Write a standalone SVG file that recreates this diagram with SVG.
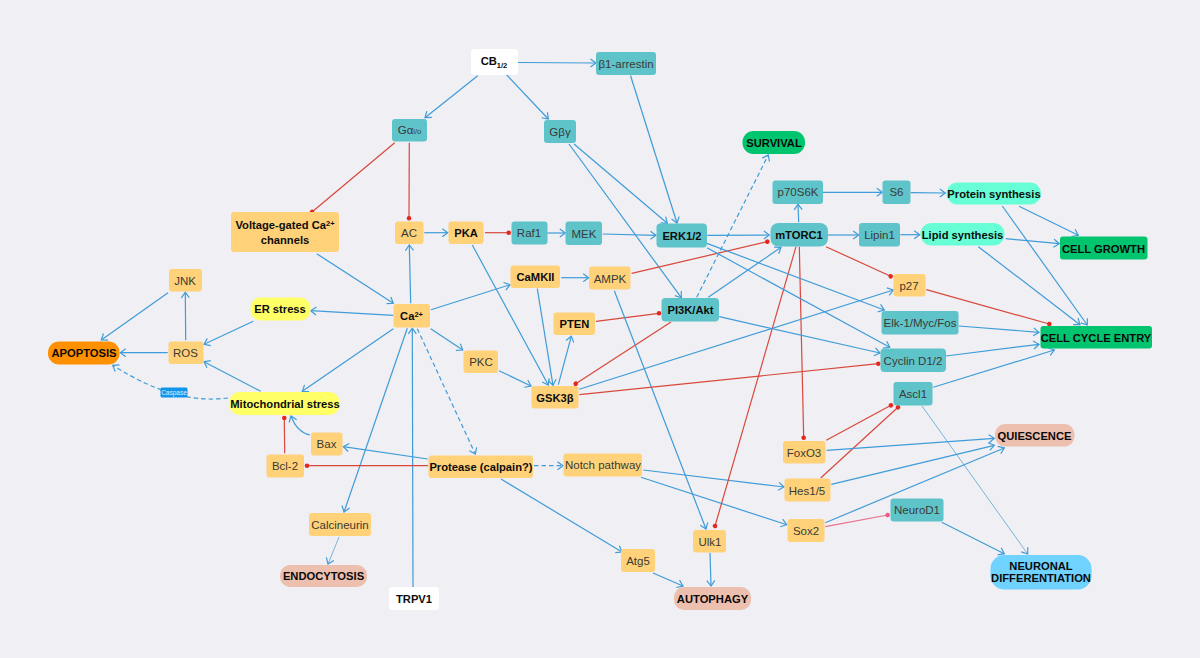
<svg xmlns="http://www.w3.org/2000/svg" width="1200" height="658" viewBox="0 0 1200 658">
<style>
text{font-family:"Liberation Sans",Arial,sans-serif;font-size:11.5px;fill:#3a3a34;text-anchor:middle;dominant-baseline:auto}
text.b{font-weight:bold;fill:#0c0c0c;font-size:11.2px}
text.c{font-weight:bold;fill:#0a0a0a;font-size:11.2px}
.o{fill:#ffd27a}.t{fill:#5fc4ca}.y{fill:#ffff66}.m{fill:#66ffd6}.g{fill:#00c46e}.a{fill:#ff9000}.s{fill:#ecbfae}.l{fill:#6fd2ff}.w{fill:#fff}
#edges path{fill:none;stroke:#3f9cd8;stroke-width:1.2;marker-end:url(#ar)}
#edges path.r{stroke:#d9483b;marker-end:url(#dot)}
#edges path.p{stroke:#e8728a;marker-end:url(#pdot)}
#edges path.d{stroke-dasharray:4.5 3}
#edges path.n{stroke-width:.8;stroke:#5aa6d0}
</style>
<defs>
<marker id="ar" markerUnits="userSpaceOnUse" markerWidth="12" markerHeight="12" refX="8" refY="5" orient="auto"><path d="M2.5 1 L8 5 L2.5 9" fill="none" stroke="#3f9cd8" stroke-width="1.2"/></marker>
<marker id="dot" markerUnits="userSpaceOnUse" markerWidth="8" markerHeight="8" refX="4" refY="4" orient="auto"><circle cx="4" cy="4" r="2.3" fill="#e5281e"/></marker>
<marker id="pdot" markerUnits="userSpaceOnUse" markerWidth="8" markerHeight="8" refX="4" refY="4" orient="auto"><circle cx="4" cy="4" r="2.3" fill="#ea5f80"/></marker>
</defs>
<rect width="1200" height="658" fill="#efeff4"/>
<g id="edges">
<path d="M518 62.5L596 63"/><path d="M630.5 75.5L677 223"/><path d="M477.7 75.7L425 117.7"/><path d="M506.7 75L548.3 119"/>
<path d="M574 144L667.3 223.3"/><path d="M569 144L681.3 297.7"/>
<path class="r" d="M394.7 142.7L312 212"/><path class="r" d="M409.3 142.7L409 218.3"/>
<path d="M424.3 232.7H447.7"/><path class="r" d="M485 232.7H508.7"/><path d="M547.3 233H565.3"/><path d="M602.7 234L656 235.3"/>
<path d="M707.3 235.3L769.3 235"/><path class="r" d="M631.7 273.3L767.3 241.7"/><path d="M561.3 277.7H588.7"/>
<path d="M472.3 245L548.3 385"/><path d="M537.3 288.7L553 385.3"/><path d="M558.3 384.7L571.3 336.3"/>
<path class="r" d="M596 321.3L659 313.3"/><path class="r" d="M671 322L575.7 383.7"/>
<path d="M431 309.7L510 284.7"/><path d="M430.7 328.7L462.7 350"/><path d="M499 370.7L531 386"/>
<path class="d" d="M417.3 328.7L475.3 454"/><path class="d" d="M534 465.7H563"/>
<path d="M413 587L412.3 328.3"/><path d="M410.7 303.3L409.3 245"/><path d="M316.7 253.7L393.3 303.3"/>
<path d="M393.3 315.3L310.7 310.7"/><path d="M393.3 328.7L302.3 391.3"/><path d="M407.3 328.3L344 512"/>
<path d="M253.3 321.3L204 344.3"/><path d="M167.7 352.7H120.3"/><path d="M185.7 340.3L185.3 292.3"/><path d="M168 292.7L101.3 340"/>
<path d="M260.7 391.3L204 361.7"/><path class="d" d="M228 398C195 402 160 395 112.7 365.3"/>
<path d="M310 435C301 433 295 427 291 416"/><path class="r" d="M284.7 453.3L284.3 418"/>
<path class="r" d="M428 465.7H307"/><path d="M427.7 459L343.3 446.7"/><path d="M501 479L622 552"/>
<path d="M643.3 470L784 487"/><path d="M641 477.3L786.7 524.7"/><path d="M614.3 290.7L706 529"/>
<path class="r" d="M796 246.7L715 526"/><path class="r" d="M799.3 246.7L803.7 437.7"/>
<path d="M798.7 222.3L798 204.3"/><path d="M823 192.3H882.3"/><path d="M910.7 192.7L945.3 193"/>
<path d="M828 235H858.7"/><path d="M900.3 234.7H919.7"/><path d="M1019 206.3L1078.3 235.3"/><path d="M1002.3 206L1087.3 325"/>
<path d="M1005.7 238.7L1059.3 243.7"/><path d="M978.3 246.7L1080 324.7"/>
<path class="r" d="M826 246.7L890.7 276.3"/><path class="r" d="M926.3 289.7L1049.3 324"/>
<path d="M707 243.4L884.3 310"/><path d="M707 247.8L889.7 347.3"/><path d="M719.3 316.7L880 353"/><path d="M708.3 297.3L781 247.3"/>
<path class="d" d="M696.7 297.3L768.3 155"/><path d="M579.3 389.3L893.3 290"/><path class="r" d="M579.3 394.7L878.3 363.7"/>
<path d="M958.7 326L1039 332.3"/><path d="M946 356L1039 344.3"/><path d="M933.3 387.3L1054.3 350"/><path class="n" d="M922 406L1027.7 554"/>
<path class="r" d="M826.3 440.3L891 405.3"/><path class="r" d="M820.7 478L898 407.3"/>
<path d="M826.7 450.3L994.3 438.3"/><path d="M831.3 484.3L994.3 445.3"/><path d="M825.3 522.7L1004.3 448"/>
<path class="p" d="M825.3 526.7L887.7 515"/><path d="M941.7 522.3L1004.3 553.7"/>
<path class="n" d="M339 537L328 564"/><path d="M653 573L683 586"/><path d="M710 553L711 586"/>
</g>
<g id="cb"><rect class="w" x="471" y="49" width="47" height="26" rx="3"/><text class="b" x="494" y="65">CB<tspan font-size="7.5" dy="2.5">1/2</tspan></text></g>
<g id="arrestin"><rect class="t" x="596" y="52" width="60" height="23" rx="3"/><text x="626" y="68">β1-arrestin</text></g>
<g id="galpha"><rect class="t" x="392" y="119" width="35" height="22.500" rx="3"/><text x="409.500" y="134">Gα<tspan font-size="7.500">i/o</tspan></text></g>
<g id="gbg"><rect class="t" x="544" y="120" width="32" height="23" rx="3"/><text x="560" y="136">Gβγ</text></g>
<g id="survival"><rect class="g" x="742.500" y="131" width="62.500" height="23" rx="11"/><text class="c" x="774" y="147">SURVIVAL</text></g>
<g id="vgcc"><rect class="o" x="231" y="212" width="108" height="40" rx="3"/><text class="b" x="285" y="229">Voltage-gated Ca<tspan font-size="7.500" dy="-3.500">2+</tspan></text><text class="b" x="285" y="244">channels</text></g>
<g id="ac"><rect class="o" x="395" y="221.500" width="28.500" height="22.500" rx="3"/><text x="409" y="237">AC</text></g>
<g id="pka"><rect class="o" x="448.500" y="221.500" width="35" height="22.500" rx="3"/><text class="b" x="466" y="237">PKA</text></g>
<g id="raf1"><rect class="t" x="511.500" y="221.500" width="36" height="23" rx="3"/><text x="529" y="237">Raf1</text></g>
<g id="mek"><rect class="t" x="565.500" y="221.500" width="36.500" height="23.500" rx="3"/><text x="584" y="238">MEK</text></g>
<g id="erk"><rect class="t" x="656.500" y="223.500" width="50.500" height="24" rx="4"/><text class="b" x="682" y="240">ERK1/2</text></g>
<g id="camkii"><rect class="o" x="510.500" y="265.500" width="49.500" height="22.500" rx="3"/><text class="b" x="535.500" y="281">CaMKII</text></g>
<g id="ampk"><rect class="o" x="589" y="266.500" width="41.500" height="23" rx="3"/><text x="610" y="283">AMPK</text></g>
<g id="pten"><rect class="o" x="553.500" y="312.500" width="41.500" height="22.500" rx="3"/><text class="b" x="574.500" y="328">PTEN</text></g>
<g id="pi3k"><rect class="t" x="661.500" y="298" width="57.500" height="23.500" rx="4"/><text class="b" x="690.500" y="314">PI3K/Akt</text></g>
<g id="ca"><rect class="o" x="393.500" y="304" width="36.500" height="23.500" rx="3"/><text class="b" x="411.500" y="320">Ca<tspan font-size="7.500" dy="-3.500">2+</tspan></text></g>
<g id="pkc"><rect class="o" x="463.500" y="350.500" width="34.500" height="22.500" rx="3"/><text x="481" y="366">PKC</text></g>
<g id="gsk"><rect class="o" x="531.500" y="386" width="47" height="22.500" rx="3"/><text class="b" x="555" y="401.500">GSK3β</text></g>
<g id="protease"><rect class="o" x="428.500" y="455.500" width="104.500" height="22.500" rx="3"/><text class="b" x="481" y="471">Protease (calpain?)</text></g>
<g id="notch"><rect class="o" x="563.500" y="453.500" width="78.500" height="23" rx="3"/><text x="603" y="469">Notch pathway</text></g>
<g id="p70"><rect class="t" x="772.500" y="180.500" width="50.500" height="23.500" rx="3"/><text x="798" y="196">p70S6K</text></g>
<g id="s6"><rect class="t" x="882.500" y="180.500" width="28" height="23.500" rx="3"/><text x="896.500" y="196">S6</text></g>
<g id="protein"><rect class="m" x="946.500" y="182.500" width="94.500" height="22" rx="11"/><text class="b" x="994" y="198">Protein synthesis</text></g>
<g id="mtorc1"><rect class="t" x="770.500" y="223" width="57.500" height="23.500" rx="8"/><text class="b" x="799" y="239">mTORC1</text></g>
<g id="lipin1"><rect class="t" x="859" y="223" width="41" height="23.500" rx="3"/><text x="879.500" y="239">Lipin1</text></g>
<g id="lipid"><rect class="m" x="920.500" y="223" width="84" height="22.500" rx="11"/><text class="b" x="962.500" y="238.500">Lipid synthesis</text></g>
<g id="growth"><rect class="g" x="1060" y="236.500" width="87.500" height="23" rx="3"/><text class="c" x="1103.500" y="252.500">CELL GROWTH</text></g>
<g id="p27"><rect class="o" x="893.500" y="274" width="32" height="22.500" rx="3"/><text x="909" y="290">p27</text></g>
<g id="elk"><rect class="t" x="881.500" y="311" width="77" height="23.500" rx="3"/><text x="920" y="327">Elk-1/Myc/Fos</text></g>
<g id="cyclin"><rect class="t" x="880.500" y="348.500" width="65.500" height="23.500" rx="4"/><text x="913" y="364.500">Cyclin D1/2</text></g>
<g id="cycle"><rect class="g" x="1040.500" y="326" width="111.500" height="22.500" rx="3"/><text class="c" x="1096" y="341.500">CELL CYCLE ENTRY</text></g>
<g id="ascl1"><rect class="t" x="893.500" y="382" width="39" height="23.500" rx="3"/><text x="913" y="398">Ascl1</text></g>
<g id="quiescence"><rect class="s" x="995" y="424" width="79.500" height="22.500" rx="10"/><text class="c" x="1034.500" y="439.500">QUIESCENCE</text></g>
<g id="foxo3"><rect class="o" x="783" y="441" width="42.500" height="22.500" rx="3"/><text x="804" y="456.500">FoxO3</text></g>
<g id="hes"><rect class="o" x="784.500" y="478.500" width="46" height="23" rx="3"/><text x="807" y="494.500">Hes1/5</text></g>
<g id="neurod1"><rect class="t" x="890.500" y="498.500" width="53" height="23" rx="3"/><text x="917" y="514">NeuroD1</text></g>
<g id="sox2"><rect class="o" x="787.500" y="519" width="37" height="23" rx="3"/><text x="806" y="535">Sox2</text></g>
<g id="neuronal"><rect class="l" x="990.500" y="555" width="101" height="34.500" rx="14"/><text class="c" x="1041" y="570">NEURONAL</text><text class="c" x="1041" y="582">DIFFERENTIATION</text></g>
<g id="jnk"><rect class="o" x="169" y="269" width="33" height="22.500" rx="3"/><text x="185" y="285">JNK</text></g>
<g id="er"><rect class="y" x="250.500" y="297.500" width="60" height="23" rx="10"/><text class="b" x="280" y="313">ER stress</text></g>
<g id="ros"><rect class="o" x="168.500" y="341.500" width="35" height="22.500" rx="3"/><text x="185.500" y="357">ROS</text></g>
<g id="apoptosis"><rect class="a" x="48" y="341.500" width="71.500" height="23" rx="11"/><text class="c" x="84" y="357">APOPTOSIS</text></g>
<g id="mito"><rect class="y" x="229.500" y="392" width="110" height="23" rx="10"/><text class="b" x="285" y="408">Mitochondrial stress</text></g>
<g id="bax"><rect class="o" x="311" y="432.500" width="31.500" height="23" rx="3"/><text x="326.500" y="448">Bax</text></g>
<g id="bcl2"><rect class="o" x="266.500" y="454.500" width="37.500" height="23" rx="3"/><text x="285" y="470">Bcl-2</text></g>
<g id="caspase"><rect fill="#1095ea" x="160.500" y="387.500" width="27" height="10" rx="1.500"/><text x="174" y="395" style="font-size:6.500px;fill:#dff0ff">Caspase</text></g>
<g id="calcineurin"><rect class="o" x="309" y="513" width="62" height="23" rx="3"/><text x="340" y="529">Calcineurin</text></g>
<g id="endocytosis"><rect class="s" x="280" y="565" width="87" height="22" rx="10"/><text class="c" x="323.500" y="580">ENDOCYTOSIS</text></g>
<g id="trpv1"><rect class="w" x="389" y="587" width="50" height="23" rx="3"/><text class="b" x="414" y="603">TRPV1</text></g>
<g id="ulk1"><rect class="o" x="693" y="530" width="33" height="22.500" rx="3"/><text x="710" y="545.500">Ulk1</text></g>
<g id="atg5"><rect class="o" x="621" y="549" width="34" height="23" rx="3"/><text x="638" y="565">Atg5</text></g>
<g id="autophagy"><rect class="s" x="674" y="587" width="77" height="23" rx="10"/><text class="c" x="712.500" y="603">AUTOPHAGY</text></g>
</svg>
